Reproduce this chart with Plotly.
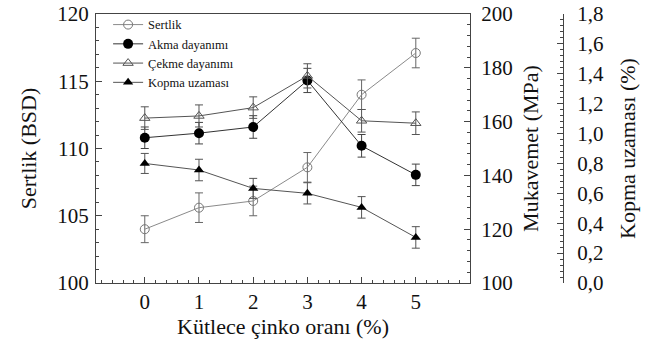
import plotly.graph_objects as go

x_zn = [0, 1, 2, 3, 4, 5]
sertlik = [104.0, 105.6, 106.1, 108.6, 114.0, 117.1]
sertlik_err = [1.0, 1.1, 1.1, 1.1, 1.1, 1.1]
akma = [154.0, 155.7, 158.0, 175.3, 151.0, 140.2]
akma_err = [4.0, 4.0, 4.2, 4.5, 4.2, 4.0]
cekme = [161.3, 162.1, 165.2, 177.0, 160.3, 159.4]
cekme_err = [4.2, 4.1, 4.0, 4.5, 4.2, 4.2]
kopma = [0.80, 0.756, 0.633, 0.60, 0.506, 0.305]
kopma_err = [0.067, 0.072, 0.067, 0.071, 0.072, 0.072]

FONT = "Liberation Serif"
AX = "#444444"

fig = go.Figure()

def err(arr, color):
    return dict(type="data", array=arr, visible=True, color=color, thickness=1, width=4)

fig.add_trace(go.Scatter(
    x=x_zn, y=sertlik, name="Sertlik", yaxis="y",
    mode="lines+markers",
    line=dict(color="#8a8a8a", width=1),
    marker=dict(symbol="circle-open", size=9, color="#777777", line=dict(width=1)),
    error_y=err(sertlik_err, "#666666"),
))
fig.add_trace(go.Scatter(
    x=x_zn, y=akma, name="Akma dayanımı", yaxis="y2",
    mode="lines+markers",
    line=dict(color="#333333", width=1),
    marker=dict(symbol="circle", size=10, color="#000000"),
    error_y=err(akma_err, "#444444"),
))
fig.add_trace(go.Scatter(
    x=x_zn, y=cekme, name="Çekme dayanımı", yaxis="y2",
    mode="lines+markers",
    line=dict(color="#555555", width=1),
    marker=dict(symbol="triangle-up-open", size=9, color="#555555", line=dict(width=1)),
    error_y=err(cekme_err, "#555555"),
))
fig.add_trace(go.Scatter(
    x=x_zn, y=kopma, name="Kopma uzaması", yaxis="y3",
    mode="lines+markers",
    line=dict(color="#555555", width=1),
    marker=dict(symbol="triangle-up", size=9, color="#000000"),
    error_y=err(kopma_err, "#555555"),
))

L, R = 96, 62
paper_w = 662 - L - R
plot_right = 470
dom = (plot_right - L) / paper_w
pos3 = (563 - L) / paper_w

tickfont = dict(family=FONT, size=21, color="#111111")
titlefont = dict(family=FONT, size=22, color="#111111")

fig.update_layout(
    width=662, height=343,
    margin=dict(l=L, r=R, t=14, b=60, autoexpand=False),
    paper_bgcolor="white", plot_bgcolor="white",
    font=dict(family=FONT),
    showlegend=True,
    legend=dict(x=0.024, y=1.015, xanchor="left", yanchor="top",
                bgcolor="rgba(0,0,0,0)", font=dict(family=FONT, size=12.5, color="#111111"),
                tracegroupgap=0, itemwidth=30),
    xaxis=dict(
        domain=[0, dom], range=[-0.9, 6.0],
        tickmode="array", tickvals=x_zn, ticktext=[str(v) for v in x_zn],
        ticks="inside", ticklen=6, tickcolor=AX,
        minor=dict(dtick=0.2, tick0=0, ticks="inside", ticklen=3, tickcolor=AX),
        showline=True, linecolor=AX, linewidth=1, mirror=True,
        showgrid=False, zeroline=False,
        tickfont=tickfont,
        title=dict(text="Kütlece çinko oranı (%)", font=titlefont, standoff=2),
    ),
    yaxis=dict(
        range=[100, 120], dtick=5, tick0=100,
        ticks="inside", ticklen=6, tickcolor=AX,
        minor=dict(dtick=1, ticks="inside", ticklen=3, tickcolor=AX),
        showline=True, linecolor=AX, linewidth=1,
        showgrid=False, zeroline=False,
        tickfont=tickfont, ticklabelstandoff=2,
        title=dict(text="Sertlik (BSD)", font=titlefont, standoff=14),
    ),
    yaxis2=dict(
        overlaying="y", anchor="x", side="right",
        range=[100, 200], dtick=20, tick0=100,
        ticks="inside", ticklen=6, tickcolor=AX,
        minor=dict(dtick=4, ticks="inside", ticklen=3, tickcolor=AX),
        showline=True, linecolor=AX, linewidth=1,
        showgrid=False, zeroline=False,
        tickfont=tickfont, ticklabelstandoff=6,
        title=dict(text="Mukavemet (MPa)", font=titlefont, standoff=10),
    ),
    yaxis3=dict(
        overlaying="y", anchor="free", side="right", position=pos3,
        range=[0, 1.8], dtick=0.2, tick0=0, tickformat=".1f",
        ticks="inside", ticklen=6, tickcolor=AX,
        minor=dict(dtick=0.04, ticks="inside", ticklen=3, tickcolor=AX),
        showline=True, linecolor=AX, linewidth=1,
        showgrid=False, zeroline=False,
        tickfont=tickfont, ticklabelstandoff=9,
        title=dict(text="Kopma uzaması (%)", font=titlefont, standoff=16),
    ),
    separators=",.",
)

fig.write_html("out.html")
